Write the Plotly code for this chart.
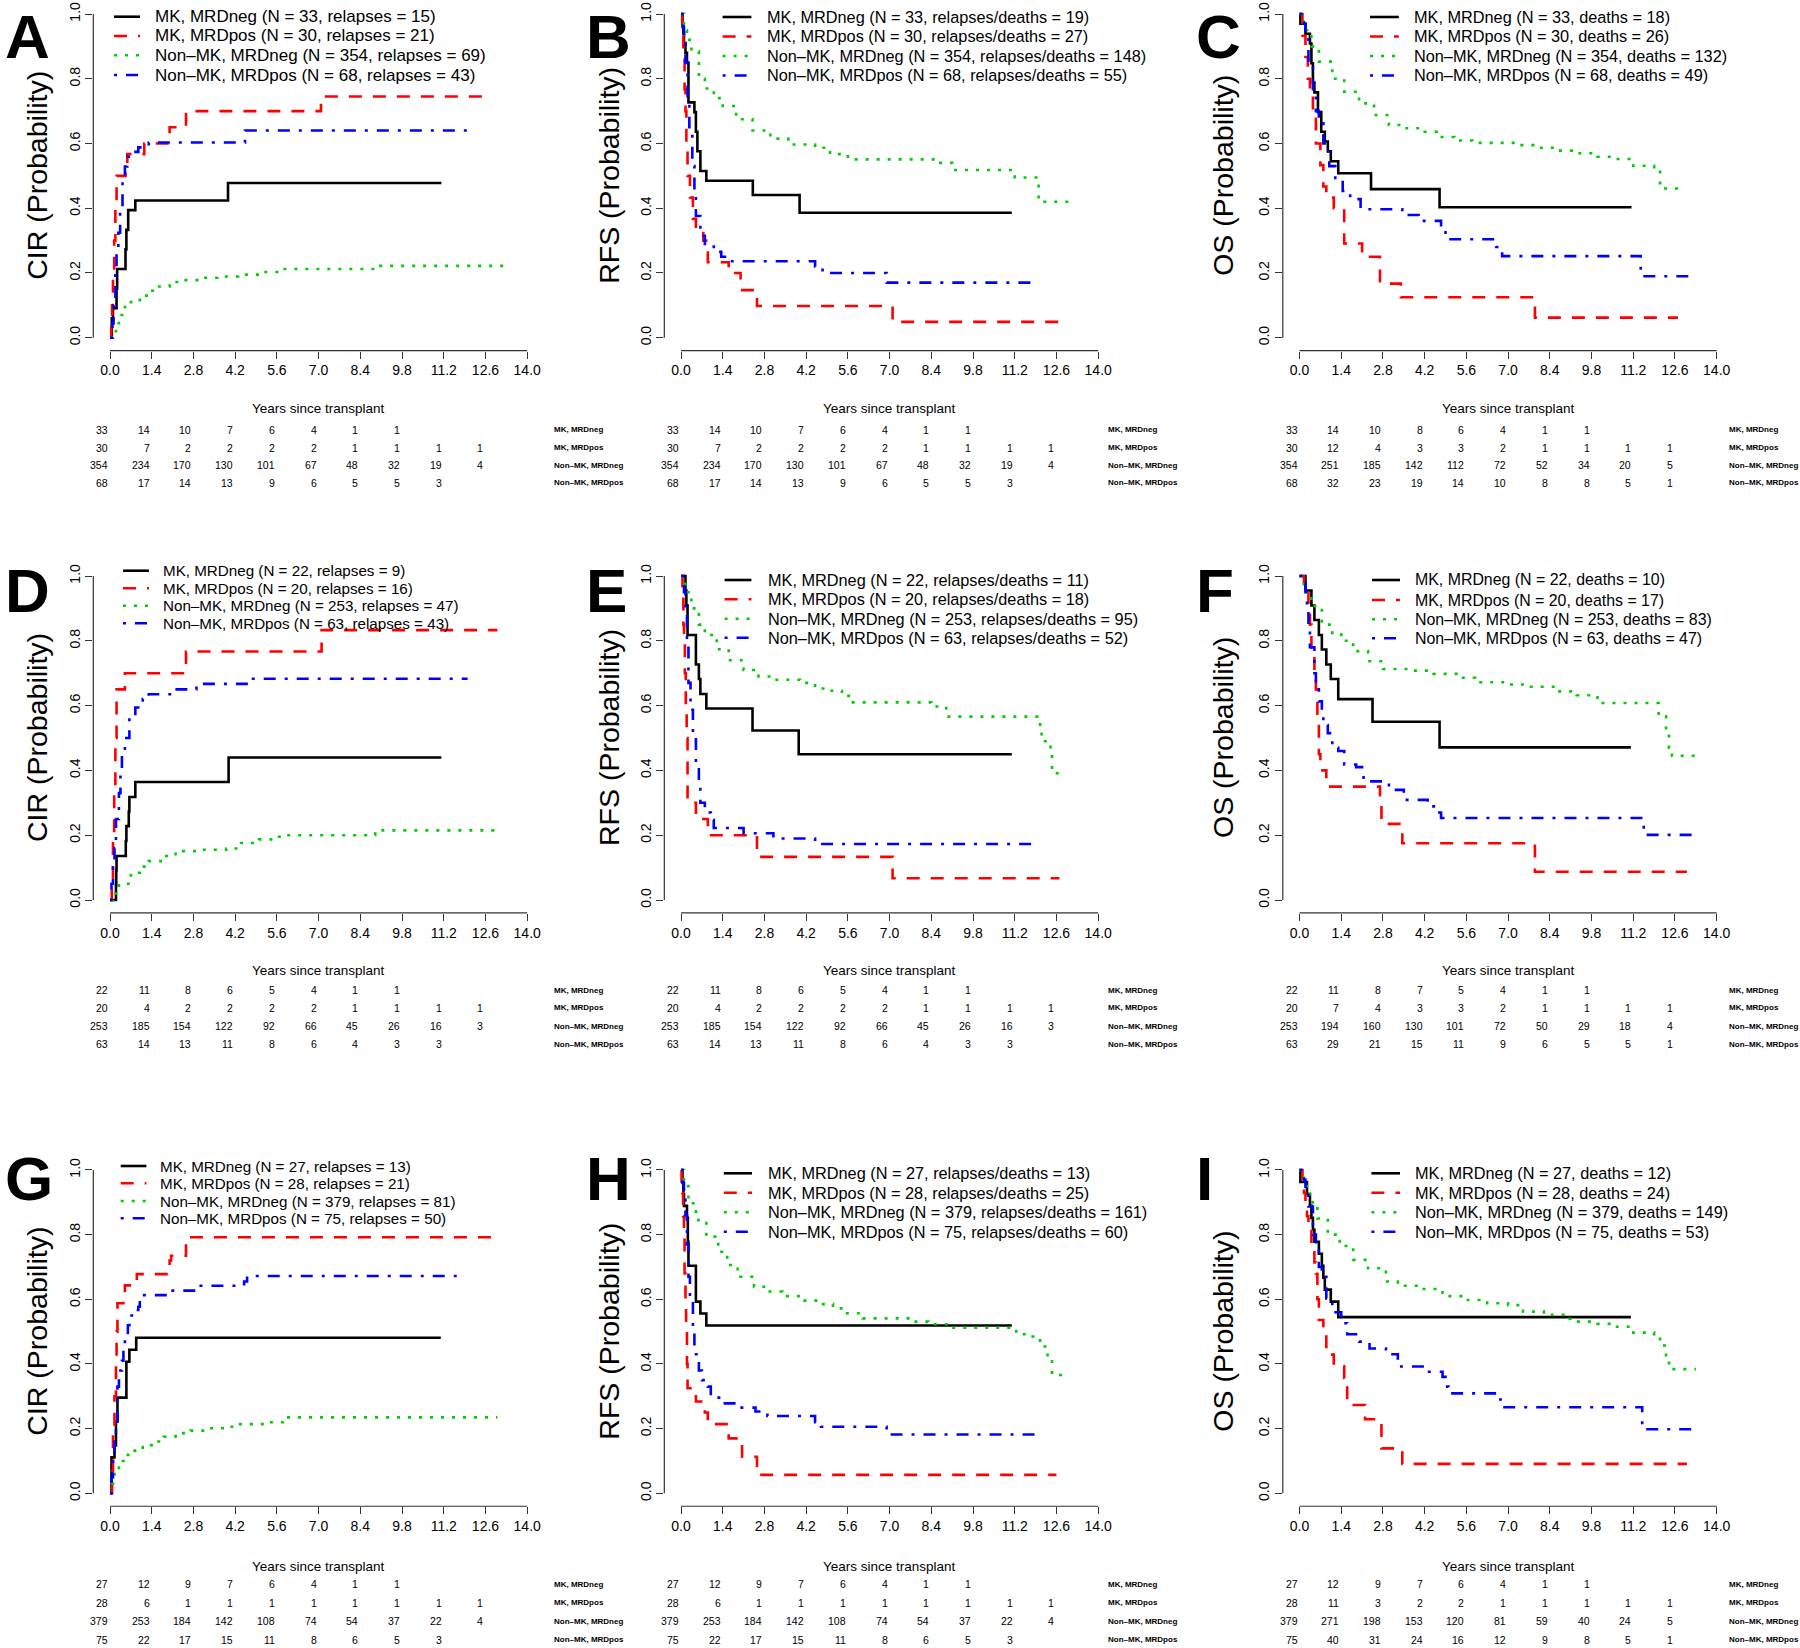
import plotly.graph_objects as go

# ---------------------------------------------------------------
# Curves: (years since transplant, probability)
# Row 1 = panels A-C, row 2 = D-F, row 3 = G-I
# ---------------------------------------------------------------
A_MK_NEG = [(0, 0), (0.06, 0.06), (0.1, 0.091), (0.22, 0.152), (0.24, 0.212), (0.52, 0.273),
            (0.55, 0.333), (0.61, 0.394), (0.85, 0.424), (3.96, 0.478), (11.12, 0.478)]
A_MK_POS = [(0, 0), (0.04, 0.033), (0.07, 0.1), (0.1, 0.2), (0.14, 0.3), (0.18, 0.4), (0.22, 0.5),
            (0.52, 0.533), (0.58, 0.567), (1.15, 0.6), (2.0, 0.65), (2.55, 0.7), (7.08, 0.745), (12.6, 0.745)]
A_NMK_NEG = [(0, 0), (0.1, 0.02), (0.2, 0.045), (0.3, 0.07), (0.5, 0.095), (0.7, 0.11), (1.0, 0.13),
             (1.3, 0.145), (1.6, 0.158), (2.0, 0.172), (2.4, 0.178), (3.0, 0.185), (3.6, 0.189),
             (4.3, 0.195), (5.0, 0.203), (5.8, 0.212), (8.9, 0.222), (13.2, 0.222)]
A_NMK_POS = [(0, 0), (0.08, 0.044), (0.12, 0.1), (0.18, 0.2), (0.22, 0.265), (0.28, 0.324), (0.34, 0.4),
             (0.42, 0.485), (0.5, 0.529), (0.58, 0.559), (0.8, 0.574), (0.95, 0.588), (1.3, 0.603),
             (4.53, 0.64), (12.08, 0.64)]

B_MK_NEG = [(0, 1), (0.05, 0.97), (0.08, 0.94), (0.1, 0.91), (0.15, 0.88), (0.2, 0.85), (0.25, 0.727),
            (0.45, 0.697), (0.5, 0.636), (0.55, 0.576), (0.65, 0.515), (0.85, 0.485), (2.41, 0.441),
            (3.98, 0.386), (11.1, 0.386)]
B_MK_POS = [(0, 1), (0.04, 0.933), (0.08, 0.867), (0.12, 0.767), (0.15, 0.7), (0.18, 0.6), (0.22, 0.5),
            (0.3, 0.433), (0.4, 0.367), (0.5, 0.333), (0.75, 0.3), (0.9, 0.233), (1.6, 0.2), (2.0, 0.147),
            (2.55, 0.098), (7.1, 0.049), (13.0, 0.049)]
B_NMK_NEG = [(0, 1), (0.1, 0.95), (0.2, 0.92), (0.35, 0.885), (0.6, 0.8), (0.8, 0.77), (1.1, 0.74),
             (1.4, 0.716), (1.85, 0.675), (2.4, 0.64), (3.0, 0.615), (3.6, 0.597), (4.5, 0.587),
             (5.0, 0.567), (5.6, 0.551), (8.6, 0.54), (9.1, 0.518), (11.2, 0.495), (12.0, 0.42), (13.2, 0.42)]
B_NMK_POS = [(0, 1), (0.05, 0.96), (0.1, 0.92), (0.15, 0.85), (0.22, 0.74), (0.28, 0.65), (0.38, 0.53),
             (0.45, 0.45), (0.5, 0.376), (0.65, 0.315), (0.8, 0.29), (1.1, 0.265), (1.35, 0.25),
             (1.6, 0.236), (4.5, 0.22), (4.75, 0.2), (6.9, 0.17), (12.0, 0.17)]

C_MK_NEG = [(0, 1), (0.03, 0.97), (0.2, 0.939), (0.35, 0.909), (0.4, 0.848), (0.45, 0.788), (0.5, 0.758),
            (0.62, 0.697), (0.73, 0.636), (0.85, 0.606), (0.95, 0.576), (1.05, 0.545), (1.3, 0.508),
            (2.4, 0.459), (4.7, 0.403), (11.14, 0.403)]
C_MK_POS = [(0, 1), (0.1, 0.933), (0.2, 0.867), (0.28, 0.8), (0.35, 0.767), (0.45, 0.7), (0.55, 0.6),
            (0.7, 0.533), (0.8, 0.467), (0.9, 0.433), (1.15, 0.4), (1.5, 0.291), (2.1, 0.25), (2.7, 0.167),
            (3.4, 0.125), (7.9, 0.062), (12.7, 0.062)]
C_NMK_NEG = [(0, 1), (0.15, 0.95), (0.4, 0.9), (0.65, 0.853), (1.1, 0.8), (1.5, 0.76), (2.0, 0.724),
             (2.5, 0.688), (3.0, 0.657), (3.5, 0.647), (4.2, 0.636), (4.6, 0.62), (5.2, 0.609),
             (5.8, 0.602), (7.4, 0.595), (8.0, 0.587), (8.6, 0.578), (9.4, 0.57), (10.0, 0.559),
             (10.6, 0.552), (11.2, 0.531), (11.9, 0.52), (12.1, 0.461), (12.9, 0.461)]
C_NMK_POS = [(0, 1), (0.15, 0.97), (0.2, 0.935), (0.3, 0.85), (0.45, 0.76), (0.55, 0.7), (0.65, 0.662),
             (0.8, 0.6), (0.9, 0.575), (1.0, 0.53), (1.2, 0.487), (1.45, 0.453), (1.7, 0.428),
             (2.05, 0.397), (3.45, 0.379), (4.0, 0.361), (4.75, 0.33), (4.9, 0.304), (6.6, 0.28),
             (6.8, 0.252), (11.45, 0.19), (13.2, 0.19)]

D_MK_NEG = [(0, 0), (0.2, 0.045), (0.21, 0.091), (0.22, 0.136), (0.53, 0.182), (0.55, 0.228),
            (0.63, 0.273), (0.65, 0.318), (0.85, 0.364), (3.98, 0.44), (11.12, 0.44)]
D_MK_POS = [(0, 0), (0.06, 0.05), (0.1, 0.2), (0.14, 0.35), (0.18, 0.5), (0.22, 0.65), (0.5, 0.7),
            (2.55, 0.767), (7.1, 0.833), (13.0, 0.833)]
D_NMK_NEG = [(0, 0), (0.1, 0.02), (0.3, 0.05), (0.7, 0.084), (1.0, 0.103), (1.3, 0.12), (1.7, 0.136),
             (2.2, 0.151), (3.0, 0.155), (3.9, 0.159), (4.4, 0.176), (5.0, 0.187), (5.5, 0.195),
             (5.8, 0.2), (8.9, 0.215), (12.9, 0.215)]
D_NMK_POS = [(0, 0), (0.05, 0.05), (0.1, 0.1), (0.15, 0.16), (0.2, 0.25), (0.3, 0.33), (0.35, 0.4),
             (0.4, 0.45), (0.5, 0.5), (0.65, 0.563), (0.85, 0.594), (1.1, 0.62), (1.3, 0.635),
             (2.1, 0.65), (2.9, 0.667), (4.65, 0.683), (12.0, 0.683)]

E_MK_NEG = [(0, 1), (0.15, 0.955), (0.18, 0.909), (0.22, 0.818), (0.5, 0.727), (0.6, 0.682),
            (0.65, 0.636), (0.85, 0.591), (2.4, 0.523), (3.95, 0.45), (11.1, 0.45)]
E_MK_POS = [(0, 1), (0.05, 0.95), (0.08, 0.85), (0.1, 0.8), (0.13, 0.7), (0.16, 0.6), (0.19, 0.5),
            (0.22, 0.3), (0.5, 0.25), (0.9, 0.2), (2.55, 0.133), (7.1, 0.067), (12.7, 0.067)]
E_NMK_NEG = [(0, 1), (0.15, 0.95), (0.35, 0.9), (0.6, 0.85), (0.8, 0.818), (1.2, 0.774), (1.6, 0.74),
             (2.1, 0.71), (2.6, 0.69), (3.1, 0.68), (4.0, 0.67), (4.5, 0.653), (4.9, 0.646), (5.4, 0.63),
             (5.7, 0.61), (8.4, 0.597), (8.9, 0.566), (12.05, 0.525), (12.1, 0.49), (12.4, 0.463),
             (12.45, 0.391), (12.8, 0.391)]
E_NMK_POS = [(0, 1), (0.1, 0.95), (0.15, 0.9), (0.2, 0.79), (0.25, 0.67), (0.32, 0.587), (0.4, 0.5),
             (0.5, 0.42), (0.6, 0.37), (0.65, 0.3), (0.8, 0.27), (1.0, 0.247), (1.1, 0.222),
             (2.1, 0.206), (3.1, 0.19), (4.5, 0.173), (12.0, 0.173)]

F_MK_NEG = [(0, 1), (0.2, 0.955), (0.4, 0.909), (0.5, 0.864), (0.65, 0.818), (0.75, 0.773), (0.9, 0.727),
            (1.05, 0.682), (1.3, 0.62), (2.45, 0.55), (4.7, 0.471), (11.12, 0.471)]
F_MK_POS = [(0, 1), (0.15, 0.95), (0.3, 0.9), (0.35, 0.85), (0.4, 0.75), (0.5, 0.7), (0.55, 0.65),
            (0.6, 0.55), (0.65, 0.45), (0.7, 0.4), (0.9, 0.35), (2.7, 0.294), (2.75, 0.235),
            (3.45, 0.175), (7.9, 0.087), (13.0, 0.087)]
F_NMK_NEG = [(0, 1), (0.15, 0.95), (0.4, 0.907), (0.75, 0.85), (1.1, 0.82), (1.4, 0.8), (1.8, 0.768),
             (2.3, 0.737), (2.8, 0.713), (3.8, 0.708), (4.5, 0.698), (5.4, 0.686), (5.9, 0.672),
             (7.0, 0.665), (7.6, 0.658), (8.6, 0.644), (9.3, 0.632), (10.0, 0.608), (12.05, 0.567),
             (12.3, 0.515), (12.4, 0.47), (12.5, 0.445), (13.3, 0.445)]
F_NMK_POS = [(0, 1), (0.15, 0.98), (0.2, 0.95), (0.25, 0.9), (0.3, 0.856), (0.35, 0.78), (0.5, 0.7),
             (0.55, 0.65), (0.65, 0.613), (0.75, 0.57), (0.8, 0.54), (0.95, 0.515), (1.1, 0.47),
             (1.3, 0.46), (1.5, 0.418), (1.9, 0.41), (2.15, 0.366), (2.9, 0.361), (3.0, 0.34),
             (3.5, 0.309), (4.3, 0.289), (4.6, 0.27), (4.75, 0.253), (11.55, 0.201), (13.3, 0.201)]

G_MK_NEG = [(0, 0), (0.05, 0.111), (0.15, 0.148), (0.2, 0.222), (0.25, 0.296), (0.55, 0.407),
            (0.65, 0.444), (0.88, 0.481), (11.1, 0.481)]
G_MK_POS = [(0, 0), (0.07, 0.036), (0.08, 0.07), (0.1, 0.18), (0.15, 0.3), (0.2, 0.397), (0.22, 0.5),
            (0.25, 0.588), (0.45, 0.608), (0.5, 0.643), (0.9, 0.678), (2.0, 0.72), (2.05, 0.735),
            (2.55, 0.792), (13.0, 0.792)]
G_NMK_NEG = [(0, 0), (0.05, 0.03), (0.15, 0.072), (0.3, 0.1), (0.5, 0.119), (0.7, 0.132), (1.1, 0.149),
             (1.4, 0.16), (1.8, 0.175), (2.2, 0.186), (2.7, 0.194), (3.3, 0.201), (3.9, 0.206),
             (4.3, 0.214), (5.2, 0.22), (5.8, 0.235), (13.0, 0.235)]
G_NMK_POS = [(0, 0), (0.05, 0.05), (0.1, 0.11), (0.15, 0.16), (0.2, 0.196), (0.25, 0.33), (0.3, 0.38),
             (0.4, 0.41), (0.45, 0.448), (0.5, 0.49), (0.6, 0.52), (0.65, 0.55), (0.85, 0.567),
             (0.95, 0.577), (1.0, 0.6), (1.05, 0.613), (2.1, 0.627), (3.0, 0.642), (4.5, 0.655),
             (4.6, 0.672), (11.8, 0.672)]

H_MK_NEG = [(0, 1), (0.05, 0.963), (0.08, 0.926), (0.1, 0.889), (0.2, 0.852), (0.23, 0.778),
            (0.25, 0.704), (0.5, 0.593), (0.65, 0.556), (0.85, 0.519), (11.1, 0.519)]
H_MK_POS = [(0, 1), (0.02, 0.964), (0.04, 0.929), (0.07, 0.857), (0.1, 0.8), (0.12, 0.68), (0.15, 0.6),
            (0.17, 0.5), (0.2, 0.4), (0.22, 0.325), (0.5, 0.284), (0.8, 0.25), (0.9, 0.214),
            (1.6, 0.17), (2.05, 0.113), (2.55, 0.057), (12.6, 0.057)]
H_NMK_NEG = [(0, 1), (0.1, 0.95), (0.25, 0.897), (0.5, 0.845), (0.85, 0.794), (1.25, 0.747),
             (1.55, 0.706), (1.9, 0.67), (2.45, 0.639), (2.9, 0.624), (3.4, 0.61), (4.1, 0.596),
             (4.6, 0.585), (5.1, 0.572), (5.5, 0.557), (6.1, 0.541), (7.7, 0.531), (8.3, 0.523),
             (9.0, 0.512), (11.25, 0.492), (11.8, 0.485), (12.05, 0.454), (12.3, 0.423),
             (12.45, 0.366), (12.9, 0.366)]
H_NMK_POS = [(0, 1), (0.05, 0.96), (0.1, 0.92), (0.15, 0.86), (0.2, 0.77), (0.25, 0.67), (0.3, 0.6),
             (0.4, 0.505), (0.45, 0.43), (0.6, 0.38), (0.7, 0.35), (0.9, 0.33), (1.0, 0.296),
             (1.4, 0.278), (1.9, 0.265), (2.5, 0.253), (2.9, 0.239), (4.5, 0.22), (4.7, 0.206),
             (6.9, 0.182), (12.0, 0.182)]

I_MK_NEG = [(0, 1), (0.03, 0.963), (0.25, 0.926), (0.35, 0.889), (0.4, 0.852), (0.45, 0.815),
            (0.5, 0.778), (0.65, 0.741), (0.75, 0.704), (0.8, 0.667), (0.85, 0.63), (1.05, 0.593),
            (1.3, 0.545), (11.12, 0.545)]
I_MK_POS = [(0, 1), (0.1, 0.964), (0.15, 0.929), (0.2, 0.893), (0.25, 0.857), (0.3, 0.821), (0.4, 0.75),
            (0.5, 0.714), (0.55, 0.679), (0.6, 0.6), (0.65, 0.536), (0.8, 0.5), (0.9, 0.429),
            (1.15, 0.393), (1.5, 0.357), (1.6, 0.273), (2.2, 0.229), (2.75, 0.139), (3.45, 0.091),
            (13.0, 0.091)]
I_NMK_NEG = [(0, 1), (0.15, 0.95), (0.35, 0.9), (0.6, 0.85), (0.95, 0.8), (1.35, 0.765), (1.8, 0.722),
             (2.3, 0.696), (2.9, 0.655), (3.3, 0.642), (4.0, 0.632), (4.8, 0.61), (5.5, 0.598),
             (6.3, 0.588), (7.0, 0.582), (7.5, 0.562), (8.2, 0.552), (8.9, 0.539), (9.1, 0.531),
             (10.0, 0.524), (10.4, 0.515), (11.2, 0.497), (11.9, 0.485), (12.1, 0.457),
             (12.3, 0.417), (12.4, 0.384), (13.3, 0.384)]
I_NMK_POS = [(0, 1), (0.15, 0.97), (0.2, 0.93), (0.3, 0.887), (0.45, 0.8), (0.55, 0.753), (0.65, 0.7),
             (0.75, 0.67), (0.9, 0.603), (1.1, 0.56), (1.4, 0.526), (1.6, 0.492), (2.0, 0.469),
             (2.35, 0.448), (2.9, 0.43), (3.3, 0.392), (4.3, 0.376), (4.8, 0.36), (4.9, 0.33),
             (5.0, 0.309), (6.65, 0.29), (6.8, 0.266), (11.5, 0.198), (13.3, 0.198)]

# numbers at risk at 0, 1.4, 2.8 ... 12.6 years
RISK_AB_MK_NEG = [33, 14, 10, 7, 6, 4, 1, 1]
RISK_AB_MK_POS = [30, 7, 2, 2, 2, 2, 1, 1, 1, 1]
RISK_AB_NMK_NEG = [354, 234, 170, 130, 101, 67, 48, 32, 19, 4]
RISK_AB_NMK_POS = [68, 17, 14, 13, 9, 6, 5, 5, 3]
RISK_C_MK_NEG = [33, 14, 10, 8, 6, 4, 1, 1]
RISK_C_MK_POS = [30, 12, 4, 3, 3, 2, 1, 1, 1, 1]
RISK_C_NMK_NEG = [354, 251, 185, 142, 112, 72, 52, 34, 20, 5]
RISK_C_NMK_POS = [68, 32, 23, 19, 14, 10, 8, 8, 5, 1]
RISK_DE_MK_NEG = [22, 11, 8, 6, 5, 4, 1, 1]
RISK_DE_MK_POS = [20, 4, 2, 2, 2, 2, 1, 1, 1, 1]
RISK_DE_NMK_NEG = [253, 185, 154, 122, 92, 66, 45, 26, 16, 3]
RISK_DE_NMK_POS = [63, 14, 13, 11, 8, 6, 4, 3, 3]
RISK_F_MK_NEG = [22, 11, 8, 7, 5, 4, 1, 1]
RISK_F_MK_POS = [20, 7, 4, 3, 3, 2, 1, 1, 1, 1]
RISK_F_NMK_NEG = [253, 194, 160, 130, 101, 72, 50, 29, 18, 4]
RISK_F_NMK_POS = [63, 29, 21, 15, 11, 9, 6, 5, 5, 1]
RISK_GH_MK_NEG = [27, 12, 9, 7, 6, 4, 1, 1]
RISK_GH_MK_POS = [28, 6, 1, 1, 1, 1, 1, 1, 1, 1]
RISK_GH_NMK_NEG = [379, 253, 184, 142, 108, 74, 54, 37, 22, 4]
RISK_GH_NMK_POS = [75, 22, 17, 15, 11, 8, 6, 5, 3]
RISK_I_MK_NEG = [27, 12, 9, 7, 6, 4, 1, 1]
RISK_I_MK_POS = [28, 11, 3, 2, 2, 1, 1, 1, 1, 1]
RISK_I_NMK_NEG = [379, 271, 198, 153, 120, 81, 59, 40, 24, 5]
RISK_I_NMK_POS = [75, 40, 31, 24, 16, 12, 9, 8, 5, 1]

# group sizes and event counts shown in the legends
N_COHORT1 = [33, 30, 354, 68]
N_COHORT2 = [22, 20, 253, 63]
N_COHORT3 = [27, 28, 379, 75]
EVENTS_A = [15, 21, 69, 43]
EVENTS_B = [19, 27, 148, 55]
EVENTS_C = [18, 26, 132, 49]
EVENTS_D = [9, 16, 47, 43]
EVENTS_E = [11, 18, 95, 52]
EVENTS_F = [10, 17, 83, 47]
EVENTS_G = [13, 21, 81, 50]
EVENTS_H = [13, 25, 161, 60]
EVENTS_I = [12, 24, 149, 53]

GROUPS = ['MK, MRDneg', 'MK, MRDpos', 'Non\u2013MK, MRDneg', 'Non\u2013MK, MRDpos']
X_TICKS = [0.0, 1.4, 2.8, 4.2, 5.6, 7.0, 8.4, 9.8, 11.2, 12.6, 14.0]
RISK_TIMES = [0.0, 1.4, 2.8, 4.2, 5.6, 7.0, 8.4, 9.8, 11.2, 12.6]
Y_TICKS = [0.0, 0.2, 0.4, 0.6, 0.8, 1.0]

panels = [
    ('A', 'CIR', 'relapses', N_COHORT1, EVENTS_A, [A_MK_NEG, A_MK_POS, A_NMK_NEG, A_NMK_POS],
     [RISK_AB_MK_NEG, RISK_AB_MK_POS, RISK_AB_NMK_NEG, RISK_AB_NMK_POS]),
    ('B', 'RFS', 'relapses/deaths', N_COHORT1, EVENTS_B, [B_MK_NEG, B_MK_POS, B_NMK_NEG, B_NMK_POS],
     [RISK_AB_MK_NEG, RISK_AB_MK_POS, RISK_AB_NMK_NEG, RISK_AB_NMK_POS]),
    ('C', 'OS', 'deaths', N_COHORT1, EVENTS_C, [C_MK_NEG, C_MK_POS, C_NMK_NEG, C_NMK_POS],
     [RISK_C_MK_NEG, RISK_C_MK_POS, RISK_C_NMK_NEG, RISK_C_NMK_POS]),
    ('D', 'CIR', 'relapses', N_COHORT2, EVENTS_D, [D_MK_NEG, D_MK_POS, D_NMK_NEG, D_NMK_POS],
     [RISK_DE_MK_NEG, RISK_DE_MK_POS, RISK_DE_NMK_NEG, RISK_DE_NMK_POS]),
    ('E', 'RFS', 'relapses/deaths', N_COHORT2, EVENTS_E, [E_MK_NEG, E_MK_POS, E_NMK_NEG, E_NMK_POS],
     [RISK_DE_MK_NEG, RISK_DE_MK_POS, RISK_DE_NMK_NEG, RISK_DE_NMK_POS]),
    ('F', 'OS', 'deaths', N_COHORT2, EVENTS_F, [F_MK_NEG, F_MK_POS, F_NMK_NEG, F_NMK_POS],
     [RISK_F_MK_NEG, RISK_F_MK_POS, RISK_F_NMK_NEG, RISK_F_NMK_POS]),
    ('G', 'CIR', 'relapses', N_COHORT3, EVENTS_G, [G_MK_NEG, G_MK_POS, G_NMK_NEG, G_NMK_POS],
     [RISK_GH_MK_NEG, RISK_GH_MK_POS, RISK_GH_NMK_NEG, RISK_GH_NMK_POS]),
    ('H', 'RFS', 'relapses/deaths', N_COHORT3, EVENTS_H, [H_MK_NEG, H_MK_POS, H_NMK_NEG, H_NMK_POS],
     [RISK_GH_MK_NEG, RISK_GH_MK_POS, RISK_GH_NMK_NEG, RISK_GH_NMK_POS]),
    ('I', 'OS', 'deaths', N_COHORT3, EVENTS_I, [I_MK_NEG, I_MK_POS, I_NMK_NEG, I_NMK_POS],
     [RISK_I_MK_NEG, RISK_I_MK_POS, RISK_I_NMK_NEG, RISK_I_NMK_POS]),
]

# ---------------- page geometry (pixels) ----------------
W, H = 1800, 1648
COL_X0 = [110, 681, 1299.5]         # pixel of t = 0 in each column
PPY = 29.8                          # pixels per year
ROW_Y1 = [14, 576, 1170]            # pixel of p = 1
ROW_Y0 = [337.7, 900, 1493.3]       # pixel of p = 0
YLAB_X = [37, 609, 1223]
LETTER_X = [3, 584, 1194]
LETTER_TOP = [0.5, 554, 1142]
XLAB_Y = [409, 970, 1566]
RISK_Y = [[430, 447.5, 465, 482.5], [990, 1008, 1026, 1044], [1584, 1602.5, 1621, 1639.5]]
RISK_LAB_X = [552, 1106, 1727]
# legend: line start, line end, text start, row centres, font size
LEGENDS = [
    (114, 140, 152.7, [16.7, 36, 55.3, 75], 17),
    (722.6, 751.4, 764.7, [17, 36.5, 56, 75.5], 16.3),
    (1370, 1398.8, 1411.8, [17, 36.5, 56, 75.5], 16.3),
    (123, 149, 161.4, [570.7, 588.3, 605.7, 623.3], 15.2),
    (724.6, 751.4, 765.5, [580, 599.3, 618.7, 637.7], 16.3),
    (1372, 1400, 1413, [580, 600, 619.3, 638.3], 15.9),
    (120.7, 146.4, 158.2, [1166, 1183.3, 1201, 1218.3], 15.2),
    (723.8, 752, 765.5, [1173.3, 1192.7, 1212.3, 1231.7], 16.3),
    (1371.4, 1400, 1413, [1173.3, 1192.7, 1212.3, 1231.7], 16.3),
]

COLORS = ['#000000', '#FF0000', '#00CD00', '#0000FF']
DASHES = ['solid', '13px,11px', '3px,8px', '3px,9px,12px,9px']
FONT = 'Liberation Sans, Arial, sans-serif'
AXIS_COL = '#333333'


def px(x):
    return x / W


def py(y):
    return 1 - y / H


fig = go.Figure()
shapes, annos = [], []
layout_axes = {}

for i, (letter, measure, evname, ns, evs, curves, risk) in enumerate(panels):
    r, c = divmod(i, 3)
    sfx = '' if i == 0 else str(i + 1)
    x0, y1, y0 = COL_X0[c], ROW_Y1[r], ROW_Y0[r]
    ppu = y0 - y1
    left, right = x0 - 0.56 * PPY, x0 + 14.56 * PPY
    top, bottom = y1 - 0.04 * ppu, y0 + 0.04 * ppu

    layout_axes['xaxis' + sfx] = dict(
        domain=[px(left), px(right)], range=[-0.56, 14.56], anchor='y' + sfx,
        tickvals=X_TICKS, ticktext=[f'{v:.1f}' for v in X_TICKS],
        ticks='outside', ticklen=7, tickwidth=1, tickcolor=AXIS_COL,
        showline=False, showgrid=False, zeroline=False,
        tickfont=dict(size=14, color='black', family=FONT))
    layout_axes['yaxis' + sfx] = dict(
        domain=[py(bottom), py(top)], range=[-0.04, 1.04], anchor='x' + sfx,
        tickvals=Y_TICKS, ticktext=[f'{v:.1f}' for v in Y_TICKS], tickangle=-90,
        ticks='outside', ticklen=7, tickwidth=1, tickcolor=AXIS_COL,
        showline=False, showgrid=False, zeroline=False,
        tickfont=dict(size=14, color='black', family=FONT))

    for k, series in enumerate(curves):
        t, s = zip(*series)
        fig.add_trace(go.Scatter(
            x=list(t), y=list(s), mode='lines', name=GROUPS[k],
            line=dict(shape='hv', color=COLORS[k], width=2.6, dash=DASHES[k]),
            xaxis='x' + sfx, yaxis='y' + sfx, showlegend=False,
            hovertemplate=GROUPS[k] + '<br>%{x:.2f} y: %{y:.3f}<extra></extra>'))

    # detached R-style axis lines
    shapes.append(dict(type='line', xref='paper', yref='paper',
                       x0=px(x0), x1=px(x0 + 14 * PPY), y0=py(bottom), y1=py(bottom),
                       line=dict(color=AXIS_COL, width=1.2)))
    shapes.append(dict(type='line', xref='paper', yref='paper',
                       x0=px(left), x1=px(left), y0=py(y0), y1=py(y1),
                       line=dict(color=AXIS_COL, width=1.2)))

    # legend drawn by hand
    lx0, lx1, tx, rows, fsize = LEGENDS[i]
    for k in range(4):
        shapes.append(dict(type='line', xref='paper', yref='paper',
                           x0=px(lx0), x1=px(lx1), y0=py(rows[k]), y1=py(rows[k]),
                           line=dict(color=COLORS[k], width=2.6, dash=DASHES[k])))
        annos.append(dict(xref='paper', yref='paper', x=px(tx), y=py(rows[k]),
                          xanchor='left', yanchor='middle', showarrow=False,
                          text=f'{GROUPS[k]} (N = {ns[k]}, {evname} = {evs[k]})',
                          font=dict(size=fsize, color='black', family=FONT)))

    # panel letter and axis titles
    annos.append(dict(xref='paper', yref='paper', x=px(LETTER_X[c]), y=py(LETTER_TOP[r]),
                      xanchor='left', yanchor='top', showarrow=False, text=f'<b>{letter}</b>',
                      font=dict(size=62, color='black', family=FONT)))
    annos.append(dict(xref='paper', yref='paper', x=px(YLAB_X[c]), y=py((y0 + y1) / 2),
                      xanchor='center', yanchor='middle', showarrow=False, textangle=-90,
                      text=f'{measure} (Probability)',
                      font=dict(size=28.5, color='black', family=FONT)))
    annos.append(dict(xref='paper', yref='paper', x=px((left + right) / 2), y=py(XLAB_Y[r]),
                      xanchor='center', yanchor='middle', showarrow=False,
                      text='Years since transplant',
                      font=dict(size=13.5, color='black', family=FONT)))

    # numbers at risk
    for k, counts in enumerate(risk):
        for j, n in enumerate(counts):
            annos.append(dict(xref='paper', yref='paper', x=px(x0 + RISK_TIMES[j] * PPY),
                              y=py(RISK_Y[r][k]), xanchor='right', yanchor='middle',
                              showarrow=False, text=str(n),
                              font=dict(size=10.5, color='black', family=FONT)))
        annos.append(dict(xref='paper', yref='paper', x=px(RISK_LAB_X[c]), y=py(RISK_Y[r][k]),
                          xanchor='left', yanchor='middle', showarrow=False,
                          text=f'<b>{GROUPS[k]}</b>',
                          font=dict(size=8, color='black', family=FONT)))

fig.update_layout(
    width=W, height=H,
    margin=dict(l=0, r=0, t=0, b=0),
    plot_bgcolor='white', paper_bgcolor='white',
    showlegend=False,
    shapes=shapes, annotations=annos,
    font=dict(family=FONT, color='black'),
    **layout_axes)

fig.write_html('out.html', config={'displayModeBar': False},
               post_script="document.body.style.margin='0';document.body.style.overflow='hidden';")
